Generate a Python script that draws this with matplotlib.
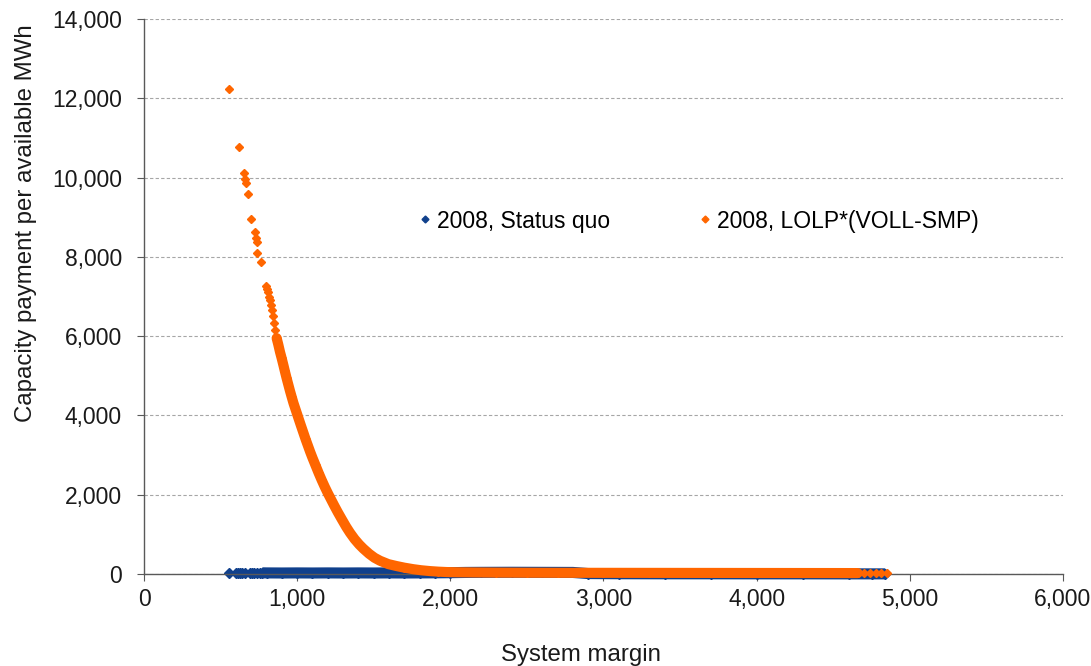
import matplotlib
matplotlib.use("Agg")
import matplotlib.pyplot as plt
from matplotlib.lines import Line2D
from matplotlib.ticker import FuncFormatter
import numpy as np

plt.rcParams['font.family'] = ['Liberation Sans', 'DejaVu Sans']

# 2008, Status quo
blue_x = [557, 598, 615, 628, 642, 660, 690, 705, 720, 738, 757, 772, 800, 900, 1000,
          1100, 1200, 1300, 1400, 1500, 1600, 1700, 1800, 1900, 2000, 2100, 2200,
          2400, 2600, 2800, 2900, 3100, 3400, 3700, 4000, 4300, 4600, 4750, 4840]
blue_y = [28, 32, 30, 34, 28, 32, 30, 34, 30, 34, 32, 30, 28, 26, 28,
          26, 28, 26, 28, 26, 28, 26, 28, 30, 34, 40, 42,
          44, 42, 40, 12, 8, 6, 6, 5, 5, 4, 4, 4]

# 2008, LOLP*(VOLL-SMP)
orange_x = [555, 620, 653, 662, 666, 677, 696, 725, 731, 740, 738, 764, 796, 802,
            807, 814, 820, 826, 833, 840, 849, 855,
            866, 876, 888, 899, 910, 920, 931, 942, 953, 964, 976, 988, 1000, 1012,
            1025, 1040, 1055, 1070, 1085, 1100, 1120, 1140, 1160, 1180, 1200, 1220,
            1240, 1265, 1290, 1320, 1345, 1375, 1405, 1432, 1470, 1505, 1541, 1595,
            1650, 1700, 1758, 1810, 1867, 1920, 1976, 2050, 2150, 2300, 2500, 2700,
            3000, 3300, 3600, 3900, 4200, 4500, 4660, 4700, 4740, 4780, 4810, 4849]
orange_y = [12230, 10780, 10110, 9960, 9860, 9590, 8950, 8630, 8470, 8380, 8090, 7880, 7260, 7180,
            7120, 6980, 6910, 6780, 6670, 6500, 6320, 6150,
            5950, 5800, 5600, 5440, 5270, 5110, 4940, 4780, 4620, 4470, 4310, 4170, 4030, 3890,
            3740, 3570, 3400, 3240, 3080, 2930, 2740, 2550, 2370, 2200, 2040, 1890,
            1740, 1560, 1390, 1190, 1040, 880, 745, 640, 510, 410, 335, 250,
            200, 160, 122, 95, 74, 60, 50, 44, 40, 36, 33, 31,
            30, 29, 28, 27, 26, 25, 24, 24, 23, 23, 22, 22]

blue = '#10408C'
orange = '#FF6600'

fig = plt.figure(figsize=(10.91, 6.66), dpi=100)
ax = fig.add_axes([0.132, 0.1381, 0.8423, 0.8334])

bx = np.array(blue_x)
by = np.array(blue_y)
ox = np.array(orange_x)
oy = np.array(orange_y)

# dense stretches are drawn as a thick band through the read-off points
m = bx >= 772
ax.plot(bx[m], by[m], color=blue, lw=8, solid_capstyle='butt', zorder=2, clip_on=False)
ax.plot(bx, by, 'D', color=blue, ms=4.6, mec=blue, zorder=2, clip_on=False)

m = (ox >= 866) & (ox <= 4660)
ax.plot(ox[m], oy[m], color=orange, lw=7.3, solid_capstyle='round', zorder=3, clip_on=False)
ax.plot(ox, oy, 'D', color=orange, ms=4.4, mec=orange, zorder=3, clip_on=False)

ax.set_xlim(0, 6000)
ax.set_ylim(0, 14000)
ax.set_xticks(range(0, 6001, 1000))
ax.set_yticks(range(0, 14001, 2000))
fmt = FuncFormatter(lambda v, p: '{:,.0f}'.format(v))
ax.xaxis.set_major_formatter(fmt)
ax.yaxis.set_major_formatter(fmt)

ax.grid(axis='y', color='#A6A6A6', linestyle=(0, (3, 2)), linewidth=0.8)
ax.set_axisbelow(True)
for s in ['top', 'right']:
    ax.spines[s].set_visible(False)
for s in ['left', 'bottom']:
    ax.spines[s].set_color('#595959')
    ax.spines[s].set_linewidth(1.0)
ax.tick_params(axis='both', direction='out', length=5, color='#595959',
               labelsize=16.5, labelcolor='#1A1A1A')
ax.tick_params(axis='y', pad=11)
ax.tick_params(axis='x', pad=5)

ax.set_xlabel('System margin', fontsize=17.3, color='#1A1A1A')
ax.set_ylabel('Capacity payment per available MWh', fontsize=17.3, color='#1A1A1A')
ax.xaxis.set_label_coords(0.4755, -0.126)
ax.yaxis.set_label_coords(-0.116, 0.6315)

handles = [Line2D([], [], marker='D', color=blue, ls='none', ms=3.5),
           Line2D([], [], marker='D', color=orange, ls='none', ms=3.5)]
ax.legend(handles, ['2008, Status quo', '2008, LOLP*(VOLL-SMP)'], ncol=2,
          loc='center', bbox_to_anchor=(0.604, 0.636), frameon=False,
          fontsize=16.5, handlelength=0.5, handletextpad=0.25, columnspacing=3.9)

fig.savefig('out.png', dpi=100)
